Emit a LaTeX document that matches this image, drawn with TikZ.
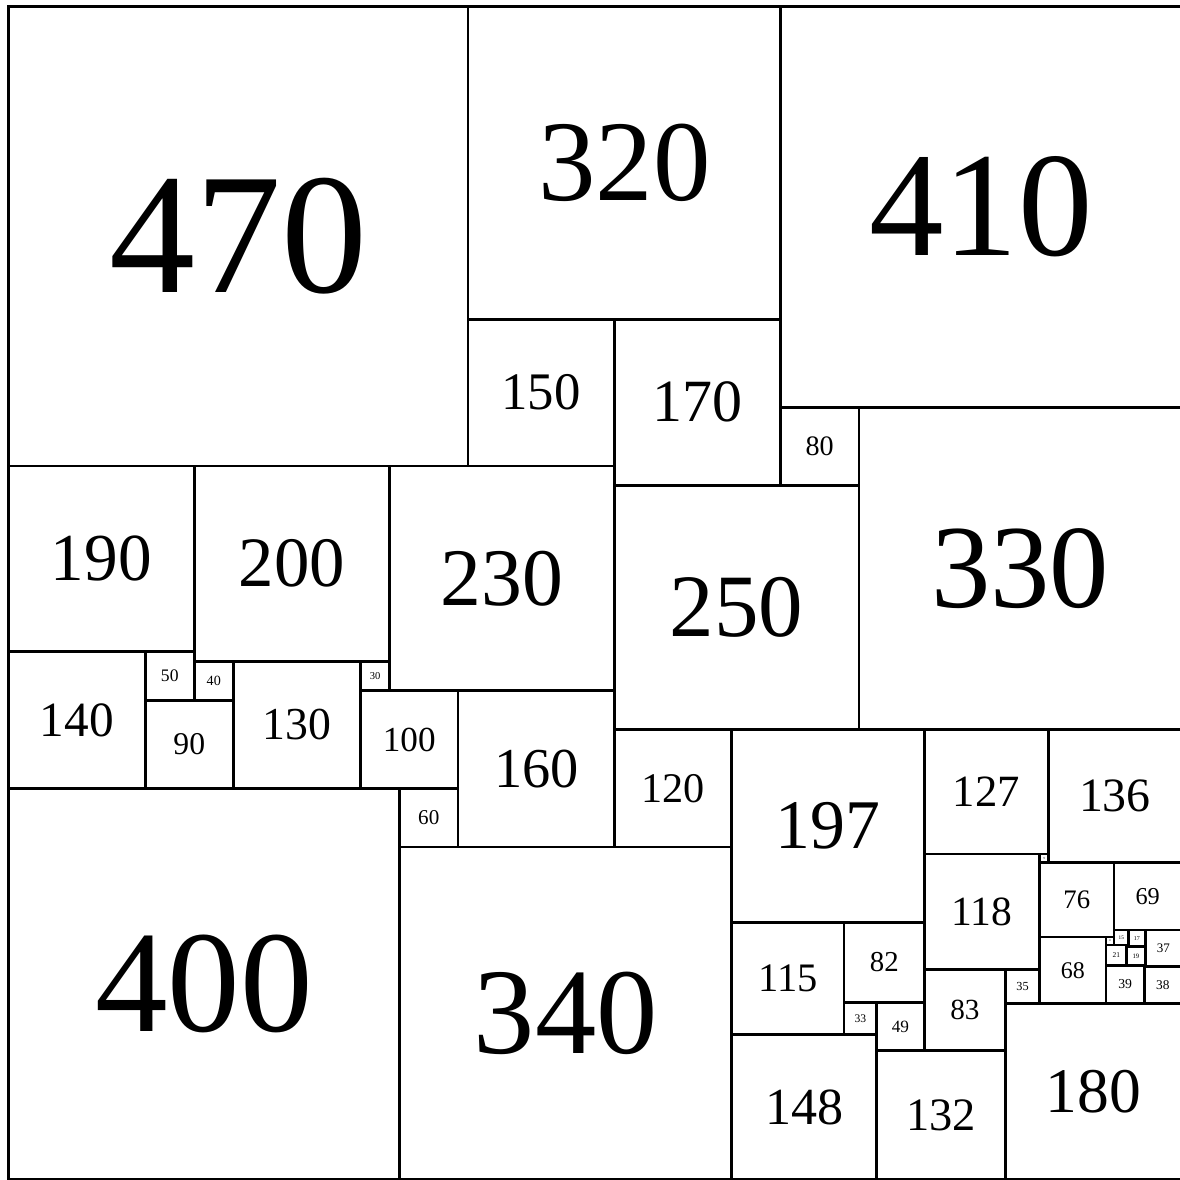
\documentclass[tikz,border=0pt]{standalone}
\usepackage{fontspec}
\setmainfont{Liberation Serif}
\tikzset{
  sqbox/.style={draw=black, line width=1.3pt},
  sqlabel/.style={inner sep=0pt, text=black}
}
\begin{document}
\begin{tikzpicture}[x=0.48835pt, y=-0.48835pt]
\useasboundingbox (-8.70,-6.66) rectangle (1198.6,1200.6);
\foreach \x/\y/\s in {
 0/0/470, 470/0/320, 790/0/410, 470/320/150, 620/320/170, 790/410/80,
 870/410/330, 0/470/190, 190/470/200, 390/470/230, 620/490/250,
 0/660/140, 140/660/50, 140/710/90, 190/670/40, 230/670/130, 360/670/30,
 360/700/100, 460/700/160, 400/800/60, 0/800/400, 400/860/340,
 620/740/120, 740/740/197, 937/740/127, 1064/740/136, 1055/867/9,
 937/867/118, 740/937/115, 855/937/82, 855/1019/33, 888/1019/49,
 937/985/83, 1020/985/35, 740/1052/148, 888/1068/132, 1020/1020/180,
 1055/876/76, 1131/876/69, 1055/952/68, 1123/952/8, 1131/945/15,
 1146/945/17, 1123/960/21, 1144/962/19, 1163/945/37, 1123/981/39,
 1162/982/38}{
  \draw[sqbox] (\x,\y) rectangle ++(\s,\s);
  \pgfmathsetmacro\fs{0.1758*\s*(1+max(\s-150,0)/8000)}
  \node[sqlabel, font=\fontsize{\fs pt}{\fs pt}\selectfont] (s\s) at ({\x+\s/2},{\y+\s/2}) {\s};
}
\draw[sqbox] (1144,960) rectangle ++(2,2);
\draw[sqbox] (1162,981) rectangle ++(1,1);
\end{tikzpicture}
\end{document}
